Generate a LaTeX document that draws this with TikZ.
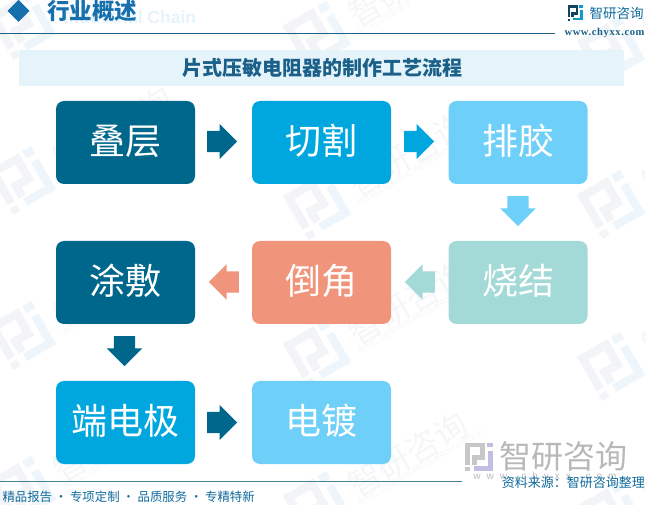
\documentclass[tikz,border=0pt]{standalone}
\usepackage{fontspec}
\setmainfont{Noto Sans CJK SC}
\newfontfamily\wwwserif[LetterSpace=6]{Liberation Serif}
\newfontfamily\wwwsans[LetterSpace=60]{Liberation Sans}
\newfontfamily\latinsans{Liberation Sans}
\usetikzlibrary{shapes.arrows}
\definecolor{dianblue}{HTML}{00678C}
\definecolor{midblue}{HTML}{00A7DE}
\definecolor{skyblue}{HTML}{6ED0F8}
\definecolor{tealpale}{HTML}{A3D9D6}
\definecolor{salmon}{HTML}{F0957B}
\definecolor{headblue}{HTML}{1570AD}
\definecolor{rulblue}{HTML}{1A6088}
\definecolor{textblue}{HTML}{0F6A9C}
\definecolor{bandblue}{HTML}{E5F3FB}
\definecolor{markgrey}{HTML}{F2F4F7}
\definecolor{markblue}{HTML}{EEF6FB}
\definecolor{markword}{HTML}{F5F6F8}
\tikzset{
	procbox/.style={rounded corners=8pt, minimum width=139pt, minimum height=83pt, inner sep=0pt, text height=30pt, text depth=5.6pt, text=white, font=\fontsize{36}{40}\selectfont},
	flowarrow/.style={single arrow, anchor=tail, inner xsep=0pt, inner ysep=10.5pt, minimum width=35pt, minimum height=30pt, single arrow head extend=7pt, single arrow head indent=0pt},
	downarrow/.style={flowarrow, inner xsep=10.5pt, inner ysep=0pt, shape border rotate=270},
}
\def\zylogo[#1,#2](#3,#4)(#5:#6){
	\begin{scope}[shift={(#3,#4)}, rotate=#5, scale=#6/24]
		\fill[#1] (-12,-12) rectangle (5,-8);
		\fill[#1] (1,-12) rectangle (5,3);
		\fill[#1] (-6,-1) rectangle (5,3);
		\fill[#1] (-6,-1) rectangle (-2,7);
		\fill[#1] (-12,-12) rectangle (-8,7);
		\fill[#1] (-12,9) rectangle (-8,12.5);
		\fill[#2] (7,-12) rectangle (12,-8);
		\fill[#2] (8,-5) rectangle (12,12);
		\fill[#2] (-4,8) rectangle (12,12);
	\end{scope}
}
\begin{document}
\begin{tikzpicture}[x=1pt, y=-1pt]
	\useasboundingbox (0,0) rectangle (646,505);
	%%%%% WATERMARKS %%%%%
	\foreach \wx/\wy in {22/25, 22/180, 22/335, 22/490, 317/35, 317/205, 317/353, 317/505, 611/50, 611/204, 611/366, 611/515}{
		\zylogo[markgrey,markblue](\wx,\wy)(30:50);
		\begin{scope}[shift={(\wx,\wy)}, rotate=30]
			\node[rotate=30, text=markword, font=\fontsize{33}{36}\selectfont] at (104,2) {智研咨询};
			\node[rotate=30, anchor=west, text=markword, font=\latinsans\fontsize{8.5}{10}\selectfont] at (33,19) {INTELLIGENCE RESEARCH GROUP};
		\end{scope}
	}
	%%%%% HEADER %%%%%
	\node[text=bandblue, font=\latinsans\bfseries\fontsize{17.5}{20}\selectfont] (chainword) at (130,17) {Industrial Chain};
	\fill[headblue] (18.5,0) -- (29.5,11) -- (18.5,22) -- (7.5,11) -- cycle;
	\node[text=headblue, font=\bfseries\fontsize{22.5}{26}\selectfont] (headword) at (92,11) {行业概述};
	\draw[rulblue, line width=1pt] (0,33.5) -- (555,33.5);
	\zylogo[rulblue!70!black,headblue!70!cyan](575,13)(0:15);
	\node[text=textblue, font=\fontsize{13.5}{16}\selectfont] (brandword) at (616.5,13) {智研咨询};
	\node[text=rulblue, font=\wwwserif\bfseries\fontsize{10.5}{12}\selectfont] (brandurl) at (604.5,33) {www.chyxx.com};
	\fill[bandblue] (19,50) rectangle (624,86);
	\node[text=rulblue, font=\bfseries\fontsize{20}{24}\selectfont] (titleword) at (322.5,68) {片式压敏电阻器的制作工艺流程};
	%%%%% BOXES %%%%%
	\node[procbox, fill=dianblue] (diecen) at (125.5,142.5) {叠层};
	\node[procbox, fill=midblue] (qiege) at (321.5,142.5) {切割};
	\node[procbox, fill=skyblue] (paijiao) at (518,142.5) {排胶};
	\node[procbox, fill=tealpale] (shaojie) at (518,282.5) {烧结};
	\node[procbox, fill=salmon] (daojiao) at (321.5,282.5) {倒角};
	\node[procbox, fill=dianblue] (tufu) at (125.5,282.5) {涂敷};
	\node[procbox, fill=midblue] (duandianji) at (125.5,422.5) {端电极};
	\node[procbox, fill=skyblue] (diandu) at (321.5,422.5) {电镀};
	%%%%% ARROWS %%%%%
	\node[flowarrow, fill=dianblue] (arrowa) at (207,141.5) {};
	\node[flowarrow, fill=midblue] (arrowb) at (404,141.5) {};
	\node[downarrow, fill=skyblue] (arrowc) at (518,196) {};
	\node[flowarrow, fill=tealpale, shape border rotate=180] (arrowd) at (435,282) {};
	\node[flowarrow, fill=salmon, shape border rotate=180] (arrowe) at (239,282) {};
	\node[downarrow, fill=dianblue] (arrowf) at (124.5,336) {};
	\node[flowarrow, fill=dianblue] (arrowg) at (207,422.5) {};
	%%%%% FOOTER %%%%%
	\draw[rulblue!80!white, line width=1pt] (0,481.5) -- (462,481.5);
	\zylogo[black!22,cyan!20!blue!25](479,456.5)(0:28);
	\node[text=black!28, font=\fontsize{32}{36}\selectfont] (greyword) at (563.5,456) {智研咨询};
	\node[text=black!28, font=\wwwsans\fontsize{10}{12}\selectfont] (greyurl) at (545,477) {www.chyxx.com};
	\node[anchor=west, text=textblue, font=\fontsize{12.4}{15}\selectfont] (slogan) at (-1,496.5) {精品报告 · 专项定制 · 品质服务 · 专精特新};
	\node[anchor=east, text=textblue, font=\fontsize{13}{15}\selectfont] (sourceword) at (648.5,483) {资料来源：智研咨询整理};
\end{tikzpicture}
\end{document}
